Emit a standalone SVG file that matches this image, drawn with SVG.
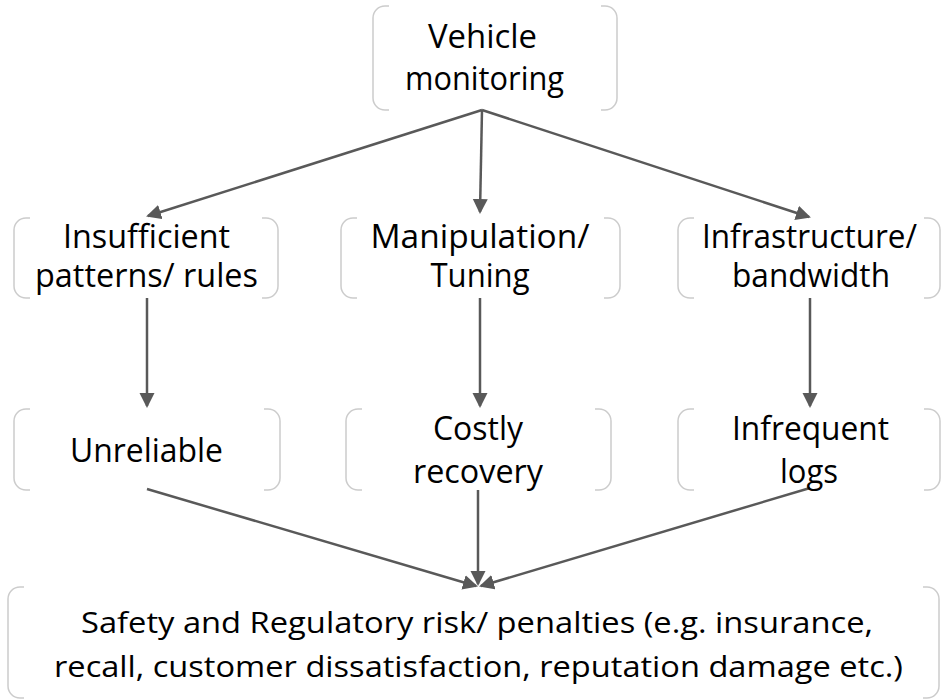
<svg xmlns="http://www.w3.org/2000/svg" width="941" height="700" viewBox="0 0 941 700">
<style>
.br{fill:none;stroke:#cccccc;stroke-width:1.5}
.t{font-family:"Open Sans","Liberation Sans",sans-serif;font-size:32px;fill:#000;text-anchor:middle}
.tb{font-family:"Open Sans","Liberation Sans",sans-serif;font-size:29px;fill:#000;text-anchor:middle}
.c{fill:none;stroke:#595959;stroke-width:2.5;marker-end:url(#ah)}
</style>
<defs>
<marker id="ah" markerUnits="userSpaceOnUse" markerWidth="16" markerHeight="16" refX="13" refY="7.5" orient="auto" viewBox="0 0 16 16">
<path d="M0,0 L15,7.5 L0,15 z" fill="#595959"/>
</marker>
</defs>
<rect width="941" height="700" fill="#fff"/>
<g id="connectors">
<line class="c" x1="482" y1="110" x2="148" y2="216"/>
<line class="c" x1="482" y1="110" x2="480" y2="212"/>
<line class="c" x1="482" y1="110" x2="809" y2="217"/>
<line class="c" x1="147" y1="298" x2="147" y2="406"/>
<line class="c" x1="480" y1="298" x2="480" y2="406"/>
<line class="c" x1="810" y1="298" x2="810" y2="406"/>
<line class="c" x1="147" y1="489" x2="476" y2="586"/>
<line class="c" x1="478" y1="490" x2="478" y2="584"/>
<line class="c" x1="810" y1="488" x2="481" y2="586"/>
</g>
<g id="n-vehicle">
<path class="br" d="M389,6 H385 A12,12 0 0 0 373,18 V98 A12,12 0 0 0 385,110 H389 M601,6 H605 A12,12 0 0 1 617,18 V98 A12,12 0 0 1 605,110 H601"/>
<text class="t" x="482.5" y="48" textLength="109" lengthAdjust="spacingAndGlyphs">Vehicle</text>
<text class="t" x="484.5" y="90" textLength="159" lengthAdjust="spacingAndGlyphs">monitoring</text>
</g>
<g id="n-insufficient">
<path class="br" d="M30,218 H26 A12,12 0 0 0 14,230 V286 A12,12 0 0 0 26,298 H30 M262,218 H266 A12,12 0 0 1 278,230 V286 A12,12 0 0 1 266,298 H262"/>
<text class="t" x="146.5" y="248" textLength="167" lengthAdjust="spacingAndGlyphs">Insufficient</text>
<text class="t" x="146.5" y="287" textLength="223" lengthAdjust="spacingAndGlyphs">patterns/ rules</text>
</g>
<g id="n-manipulation">
<path class="br" d="M357,218 H353 A12,12 0 0 0 341,230 V286 A12,12 0 0 0 353,298 H357 M604,218 H608 A12,12 0 0 1 620,230 V286 A12,12 0 0 1 608,298 H604"/>
<text class="t" x="480" y="248" textLength="219" lengthAdjust="spacingAndGlyphs">Manipulation/</text>
<text class="t" x="480" y="287" textLength="99" lengthAdjust="spacingAndGlyphs">Tuning</text>
</g>
<g id="n-infrastructure">
<path class="br" d="M694,218 H690 A12,12 0 0 0 678,230 V286 A12,12 0 0 0 690,298 H694 M924,218 H928 A12,12 0 0 1 940,230 V286 A12,12 0 0 1 928,298 H924"/>
<text class="t" x="809.5" y="248" textLength="215" lengthAdjust="spacingAndGlyphs">Infrastructure/</text>
<text class="t" x="811" y="287" textLength="158" lengthAdjust="spacingAndGlyphs">bandwidth</text>
</g>
<g id="n-unreliable">
<path class="br" d="M30,409 H26 A12,12 0 0 0 14,421 V478 A12,12 0 0 0 26,490 H30 M264,409 H268 A12,12 0 0 1 280,421 V478 A12,12 0 0 1 268,490 H264"/>
<text class="t" x="146.5" y="462" textLength="153" lengthAdjust="spacingAndGlyphs">Unreliable</text>
</g>
<g id="n-costly">
<path class="br" d="M362,409 H358 A12,12 0 0 0 346,421 V478 A12,12 0 0 0 358,490 H362 M595,409 H599 A12,12 0 0 1 611,421 V478 A12,12 0 0 1 599,490 H595"/>
<text class="t" x="478" y="440" textLength="90" lengthAdjust="spacingAndGlyphs">Costly</text>
<text class="t" x="478" y="483" textLength="130" lengthAdjust="spacingAndGlyphs">recovery</text>
</g>
<g id="n-infrequent">
<path class="br" d="M694,409 H690 A12,12 0 0 0 678,421 V478 A12,12 0 0 0 690,490 H694 M924,409 H928 A12,12 0 0 1 940,421 V478 A12,12 0 0 1 928,490 H924"/>
<text class="t" x="810.5" y="440" textLength="157" lengthAdjust="spacingAndGlyphs">Infrequent</text>
<text class="t" x="809" y="483" textLength="58" lengthAdjust="spacingAndGlyphs">logs</text>
</g>
<g id="n-safety">
<path class="br" d="M24,587 H20 A12,12 0 0 0 8,599 V686 A12,12 0 0 0 20,698 H24 M923,587 H927 A12,12 0 0 1 939,599 V686 A12,12 0 0 1 927,698 H923"/>
<text class="tb" x="477" y="633" textLength="792" lengthAdjust="spacingAndGlyphs">Safety and Regulatory risk/ penalties (e.g. insurance,</text>
<text class="tb" x="478.5" y="677" textLength="849" lengthAdjust="spacingAndGlyphs">recall, customer dissatisfaction, reputation damage etc.)</text>
</g>
</svg>
